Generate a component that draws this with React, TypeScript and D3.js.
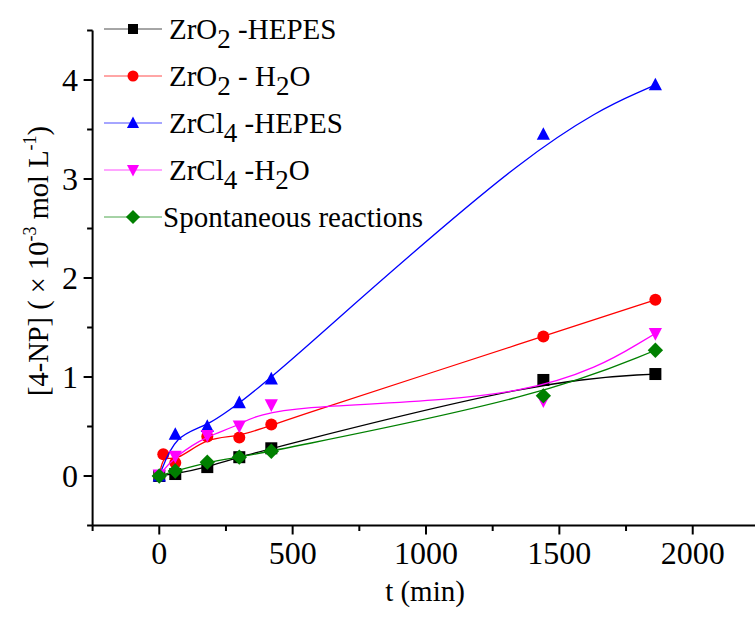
import React from "react";
import * as d3 from "d3";

const times = [0, 60, 180, 300, 420, 1440, 1860];
const timesRed = [0, 15, 60, 180, 300, 420, 1440, 1860];

const zro2Hepes = [0, 0.02, 0.09, 0.19, 0.28, 0.97, 1.03];
const zro2H2o = [0, 0.22, 0.135, 0.4, 0.39, 0.52, 1.41, 1.78];
const zrcl4Hepes = [0, 0.42, 0.5, 0.74, 0.98, 3.45, 3.95];
const zrcl4H2o = [0.01, 0.2, 0.41, 0.505, 0.72, 0.76, 1.44];
const spontaneous = [0, 0.05, 0.14, 0.19, 0.25, 0.81, 1.27];

const xMajor = [0, 500, 1000, 1500, 2000];
const xMinor = [-250, 250, 750, 1250, 1750, 2250];
const yMajor = [0, 1, 2, 3, 4];
const yMinor = [-0.5, 0.5, 1.5, 2.5, 3.5, 4.5];

type Series = {
  x: number[];
  y: number[];
  color: string;
  symbol: "square" | "circle" | "up" | "down" | "diamond";
  label: { t: string; sub?: boolean }[];
};

const series: Series[] = [
  { x: times, y: zro2Hepes, color: "#000000", symbol: "square", label: [{ t: "ZrO" }, { t: "2", sub: true }, { t: " -HEPES" }] },
  { x: timesRed, y: zro2H2o, color: "#ff0000", symbol: "circle", label: [{ t: "ZrO" }, { t: "2", sub: true }, { t: " - H" }, { t: "2", sub: true }, { t: "O" }] },
  { x: times, y: zrcl4Hepes, color: "#0000ff", symbol: "up", label: [{ t: "ZrCl" }, { t: "4", sub: true }, { t: " -HEPES" }] },
  { x: times, y: zrcl4H2o, color: "#ff00ff", symbol: "down", label: [{ t: "ZrCl" }, { t: "4", sub: true }, { t: " -H" }, { t: "2", sub: true }, { t: "O" }] },
  { x: times, y: spontaneous, color: "#008000", symbol: "diamond", label: [{ t: "Spontaneous reactions" }] },
];

const FONT = "'Liberation Serif', 'Times New Roman', serif";

function Marker({ s, x, y, color, size }: { s: Series["symbol"]; x: number; y: number; color: string; size: number }) {
  const h = size / 2;
  if (s === "square") return <rect x={x - h} y={y - h} width={size} height={size} fill={color} />;
  if (s === "circle") return <circle cx={x} cy={y} r={h} fill={color} />;
  if (s === "up") {
    const w = size * 1.1;
    return <polygon points={`${x - w / 2},${y + h * 0.9} ${x + w / 2},${y + h * 0.9} ${x},${y - h * 1.2}`} fill={color} />;
  }
  if (s === "down") {
    const w = size * 1.1;
    return <polygon points={`${x - w / 2},${y - h * 0.9} ${x + w / 2},${y - h * 0.9} ${x},${y + h * 1.2}`} fill={color} />;
  }
  const d = size * 0.64;
  return <polygon points={`${x},${y - d} ${x + d},${y} ${x},${y + d} ${x - d},${y}`} fill={color} />;
}

export default function App() {
  const W = 755;
  const H = 619;
  const xScale = d3.scaleLinear().domain([-250, 2250]).range([92.6, 759.4]);
  const yScale = d3.scaleLinear().domain([-0.5, 4.5]).range([525.5, 30.5]);
  const x0 = xScale(-250);
  const yb = yScale(-0.5);
  const yt = yScale(4.5);

  const line = d3
    .line<[number, number]>()
    .x((d) => xScale(d[0]))
    .y((d) => yScale(d[1]))
    .curve(d3.curveBasis);

  const legendY = [29, 76, 123, 170, 217];

  return (
    <svg width={W} height={H} style={{ position: "absolute", left: 0, top: 0 }} fontFamily={FONT}>
      <rect width={W} height={H} fill="#fff" />
      {/* axes */}
      <line x1={x0} x2={W} y1={yb} y2={yb} stroke="#000" strokeWidth={2} />
      <line x1={x0} x2={x0} y1={yt} y2={yb} stroke="#000" strokeWidth={2} />
      {xMajor.map((v) => (
        <g key={"xM" + v}>
          <line x1={xScale(v)} x2={xScale(v)} y1={yb} y2={yb + 9} stroke="#000" strokeWidth={2} />
          <text x={xScale(v)} y={564} fontSize={32} textAnchor="middle" fill="#000">
            {v}
          </text>
        </g>
      ))}
      {xMinor.map((v) => (
        <line key={"xm" + v} x1={xScale(v)} x2={xScale(v)} y1={yb} y2={yb + 5.5} stroke="#000" strokeWidth={2} />
      ))}
      {yMajor.map((v) => (
        <g key={"yM" + v}>
          <line x1={x0 - 9} x2={x0} y1={yScale(v)} y2={yScale(v)} stroke="#000" strokeWidth={2} />
          <text x={78} y={yScale(v) + 11} fontSize={32} textAnchor="end" fill="#000">
            {v}
          </text>
        </g>
      ))}
      {yMinor.map((v) => (
        <line key={"ym" + v} x1={x0 - 5.5} x2={x0} y1={yScale(v)} y2={yScale(v)} stroke="#000" strokeWidth={2} />
      ))}
      {/* axis titles */}
      <text x={425} y={601} fontSize={29} textAnchor="middle" fill="#000">
        t (min)
      </text>
      <text transform="translate(48,261) rotate(-90)" fontSize={28.5} textAnchor="middle" fill="#000">
        [4-NP] ( × 10
        <tspan fontSize={18} dy={-12}>-3</tspan>
        <tspan dy={12}> mol L</tspan>
        <tspan fontSize={18} dy={-12}>-1</tspan>
        <tspan dy={12}>)</tspan>
      </text>
      {/* data */}
      {series.map((s, i) => {
        const pts: [number, number][] = s.x.map((t, j) => [t, s.y[j]]);
        return (
          <g key={"s" + i}>
            <path d={line(pts) || ""} fill="none" stroke={s.color} strokeWidth={1.3} />
            {pts.map((p, j) => (
              <Marker key={j} s={s.symbol} x={xScale(p[0])} y={yScale(p[1])} color={s.color} size={12} />
            ))}
          </g>
        );
      })}
      {/* legend */}
      {series.map((s, i) => {
        const y = legendY[i];
        const tx = i === 4 ? 163 : 169;
        return (
          <g key={"l" + i}>
            <line x1={104} x2={162} y1={y} y2={y} stroke={s.color} strokeWidth={1} strokeOpacity={0.7} />
            <Marker s={s.symbol} x={133} y={y} color={s.color} size={s.symbol === "square" ? 10 : 11} />
            <text x={tx} y={y + 9.5} fontSize={29} fill="#000">
              {s.label.map((p, k) =>
                p.sub ? (
                  <tspan key={k} fontSize={27} dy={9}>
                    {p.t}
                  </tspan>
                ) : (
                  <tspan key={k} dy={k > 0 && s.label[k - 1].sub ? -9 : 0}>
                    {p.t}
                  </tspan>
                )
              )}
            </text>
          </g>
        );
      })}
    </svg>
  );
}
